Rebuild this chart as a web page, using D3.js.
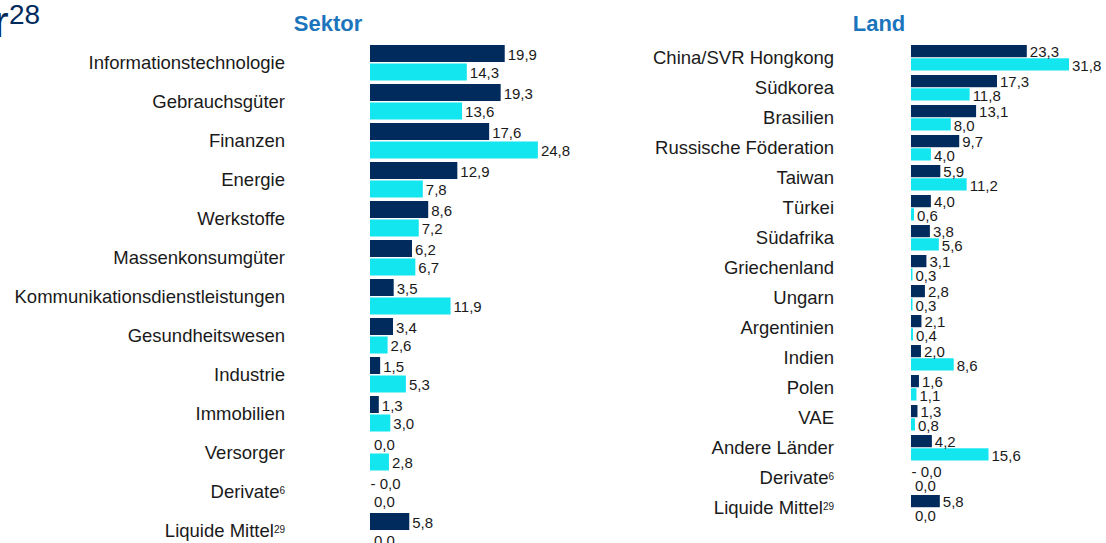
<!DOCTYPE html>
<html>
<head>
<meta charset="utf-8">
<script src="https://cdn.jsdelivr.net/npm/d3@7"></script>
<style>
  html, body { margin: 0; padding: 0; background: #fff; }
  svg { display: block; font-family: "Liberation Sans", Arial, sans-serif; }
</style>
</head>
<body>
<svg id="chart" width="1106" height="543"></svg>
<script>
// Sector allocation: fund vs. benchmark (%)
const sectorLabels = ["Informationstechnologie", "Gebrauchsgüter", "Finanzen", "Energie", "Werkstoffe",
  "Massenkonsumgüter", "Kommunikationsdienstleistungen", "Gesundheitswesen", "Industrie",
  "Immobilien", "Versorger", "Derivate", "Liquide Mittel"];
const sectorNotes = ["", "", "", "", "", "", "", "", "", "", "", "6", "29"];
const sectorFund = [19.9, 19.3, 17.6, 12.9, 8.6, 6.2, 3.5, 3.4, 1.5, 1.3, 0.0, -0.0, 5.8];
const sectorIndex = [14.3, 13.6, 24.8, 7.8, 7.2, 6.7, 11.9, 2.6, 5.3, 3.0, 2.8, 0.0, 0.0];

// Country allocation: fund vs. benchmark (%)
const countryLabels = ["China/SVR Hongkong", "Südkorea", "Brasilien", "Russische Föderation", "Taiwan",
  "Türkei", "Südafrika", "Griechenland", "Ungarn", "Argentinien", "Indien", "Polen", "VAE",
  "Andere Länder", "Derivate", "Liquide Mittel"];
const countryNotes = ["", "", "", "", "", "", "", "", "", "", "", "", "", "", "6", "29"];
const countryFund = [23.3, 17.3, 13.1, 9.7, 5.9, 4.0, 3.8, 3.1, 2.8, 2.1, 2.0, 1.6, 1.3, 4.2, -0.0, 5.8];
const countryIndex = [31.8, 11.8, 8.0, 4.0, 11.2, 0.6, 5.6, 0.3, 0.3, 0.4, 8.6, 1.1, 0.8, 15.6, 0.0, 0.0];

const NAVY = "#002b5c";
const CYAN = "#14e6f0";
const TITLE = "#1b75bc";
const INK = "#1a1a1a";

const svg = d3.select("#chart");
const fmt = d3.format(".1f");
const isNeg = v => v < 0 || Object.is(v, -0);
const label = v => (isNeg(v) ? "- " : "") + fmt(Math.abs(v)).replace(".", ",");

// Clipped heading fragment in the top-left corner
const frag = svg.append("text")
  .attr("x", -6).attr("y", 37)
  .attr("fill", NAVY)
  .style("font-size", "44px");
frag.append("tspan").text("r");
frag.append("tspan").attr("x", 9).attr("y", 24).style("font-size", "28px").text("28");

function panel(cfg) {
  const { labels, notes, fund, index, x0, unit, top, step, band, labelRight, title, titleX } = cfg;
  const g = svg.append("g");
  const n = labels.length;

  const x = d3.scaleLinear().domain([0, 35]).range([x0, x0 + 35 * unit]);
  const pi = 1 - band / step;
  const y = d3.scaleBand().domain(d3.range(n))
    .range([top, top + step * (n - pi)])
    .paddingInner(pi).paddingOuter(0);
  const sub = d3.scaleBand().domain([0, 1]).range([0, y.bandwidth()]).paddingInner(0.08);

  g.append("text")
    .attr("x", titleX).attr("y", 31)
    .attr("text-anchor", "middle")
    .attr("fill", TITLE)
    .style("font-size", "22px").style("font-weight", "bold")
    .text(title);

  // category labels with optional footnote markers
  const cat = g.selectAll("text.cat").data(labels).join("text")
    .attr("class", "cat")
    .attr("x", labelRight)
    .attr("y", (d, i) => y(i) + y.bandwidth() / 2)
    .attr("dy", "0.35em")
    .attr("text-anchor", "end")
    .attr("fill", INK)
    .style("font-size", "18.5px");
  cat.append("tspan").text(d => d);
  cat.filter((d, i) => notes[i]).append("tspan")
    .attr("dy", "-0.45em")
    .style("font-size", "10px")
    .text(d => notes[labels.indexOf(d)]);

  const rows = labels.map((d, i) => [
    { i, s: 0, v: fund[i], color: NAVY },
    { i, s: 1, v: index[i], color: CYAN }
  ]).flat();

  g.selectAll("rect").data(rows).join("rect")
    .attr("x", x(0))
    .attr("y", d => y(d.i) + sub(d.s))
    .attr("width", d => x(Math.max(0, d.v)) - x(0))
    .attr("height", sub.bandwidth())
    .attr("fill", d => d.color);

  g.selectAll("text.val").data(rows).join("text")
    .attr("class", "val")
    .attr("x", d => isNeg(d.v) ? x(0) + 0.5 : (d.v === 0 ? x(0) + 4 : x(d.v) + 3))
    .attr("y", d => y(d.i) + sub(d.s) + sub.bandwidth() / 2 + 1)
    .attr("dy", "0.35em")
    .attr("fill", INK)
    .style("font-size", "15px")
    .text(d => label(d.v));
}

panel({
  labels: sectorLabels, notes: sectorNotes, fund: sectorFund, index: sectorIndex,
  x0: 370, unit: 6.77, top: 45, step: 39, band: 35.5,
  labelRight: 285, title: "Sektor", titleX: 328
});

panel({
  labels: countryLabels, notes: countryNotes, fund: countryFund, index: countryIndex,
  x0: 911, unit: 4.97, top: 45, step: 30, band: 25.5,
  labelRight: 834, title: "Land", titleX: 879
});
</script>
</body>
</html>
